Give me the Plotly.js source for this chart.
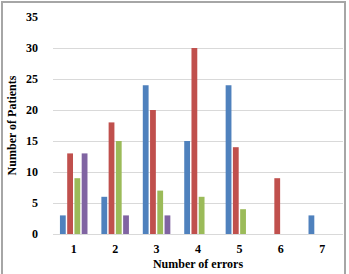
<!DOCTYPE html>
<html><head><meta charset="utf-8">
<script src="https://cdn.plot.ly/plotly-3.0.1.min.js"></script>
<style>
html,body{margin:0;padding:0;background:#fff;overflow:hidden;}
#frame{position:absolute;left:1px;top:1px;width:345px;height:280px;border:2px solid #a6a6a6;box-sizing:border-box;}
#chart{position:absolute;left:0;top:0;width:349px;height:274px;}
</style></head>
<body>
<div id="frame"></div>
<div id="chart"></div>
<script>
const categories = ["1","2","3","4","5","6","7"];
const seriesA = [3, 6, 24, 15, 24, 0, 3];
const seriesB = [13, 18, 20, 30, 14, 9, 0];
const seriesC = [9, 15, 7, 6, 4, 0, 0];
const seriesD = [13, 3, 3, 0, 0, 0, 0];
const colors = ["#4F81BD", "#C0504D", "#9BBB59", "#8064A2"];
const series = [seriesA, seriesB, seriesC, seriesD];
const traces = series.map((s, i) => ({
  type: "bar", x: categories, y: s, marker: {color: colors[i]}, hoverinfo: "none"
}));
const fam = "Liberation Serif, Times New Roman, serif";
Plotly.newPlot("chart", traces, {
  width: 349, height: 274,
  margin: {l: 53, r: 6, t: 17, b: 40},
  paper_bgcolor: "rgba(0,0,0,0)", plot_bgcolor: "rgba(0,0,0,0)",
  showlegend: false,
  barmode: "group", bargap: 0.3, bargroupgap: 0.2,
  font: {family: fam, color: "#000", size: 12},
  xaxis: {type: "category", showgrid: false, zeroline: false, showline: false,
    ticks: "", ticklabelstandoff: 6,
    tickfont: {family: fam, size: 12, color: "#000", weight: "bold"},
    title: {text: "<b>Number of errors</b>", font: {family: fam, size: 12, color: "#000"}, standoff: 4}},
  yaxis: {range: [0, 35], dtick: 5, showgrid: true, gridcolor: "#d9d9d9", gridwidth: 1,
    zeroline: true, zerolinecolor: "#d9d9d9", showline: false, ticks: "", ticklen: 0,
    ticklabelstandoff: 14,
    tickfont: {family: fam, size: 12, color: "#000", weight: "bold"},
    title: {text: "<b>Number of Patients</b>", font: {family: fam, size: 12, color: "#000"}, standoff: 6}}
}, {displayModeBar: false, staticPlot: true});
</script>
</body></html>
